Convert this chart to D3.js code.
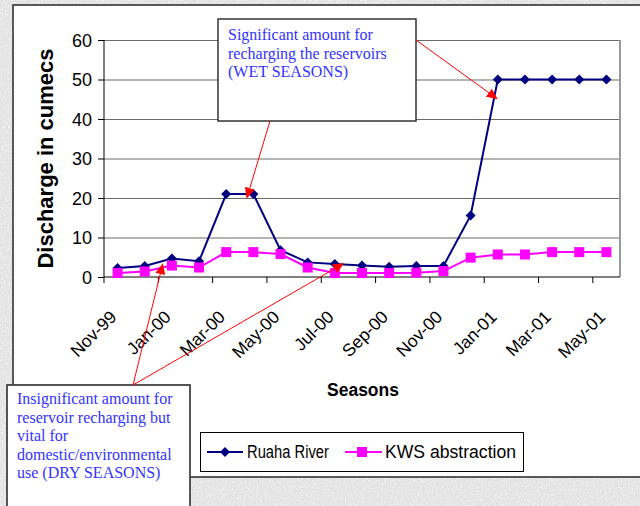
<!DOCTYPE html>
<html>
<head>
<meta charset="utf-8">
<script src="https://cdn.jsdelivr.net/npm/d3@7"></script>
<style>
  html, body { margin: 0; padding: 0; background: #e6e6e6; }
  svg { display: block; }
</style>
</head>
<body>
<svg id="chart" width="640" height="506"></svg>
<script>
// Monthly discharge, Nov 1999 – May 2001 (cumecs)
const months = ["Nov-99","Dec-99","Jan-00","Feb-00","Mar-00","Apr-00","May-00","Jun-00",
                "Jul-00","Aug-00","Sep-00","Oct-00","Nov-00","Dec-00","Jan-01","Feb-01",
                "Mar-01","Apr-01","May-01"];
const ruahaRiver = [2.3, 2.8, 4.7, 4.0, 21, 21, 6.8, 3.7, 3.3, 2.9, 2.6, 2.8, 2.8, 15.6, 50, 50, 50, 50, 50];
const kwsAbstraction = [1.0, 1.4, 2.9, 2.4, 6.3, 6.3, 5.8, 2.4, 1.0, 1.0, 1.0, 1.1, 1.5, 4.9, 5.7, 5.7, 6.3, 6.3, 6.3];
const yTicks = [0, 10, 20, 30, 40, 50, 60];

const seriesNames = ["Ruaha River", "KWS abstraction"];
const noteWet = ["Significant amount for", "recharging the reservoirs", "(WET SEASONS)"];
const noteDry = ["Insignificant amount for", "reservoir recharging but", "vital for",
                 "domestic/environmental", "use (DRY SEASONS)"];

const svg = d3.select("#chart");
const sans = "'Liberation Sans', Arial, sans-serif";
const serif = "'Liberation Serif', 'Times New Roman', serif";
const navy = "#000080", magenta = "#ff00ff", red = "#ff0000", noteBlue = "#3333ff";

// ---- textured backdrop ----
const defs = svg.append("defs");
const tex = defs.append("filter").attr("id", "speckle").attr("x", 0).attr("y", 0)
  .attr("width", "100%").attr("height", "100%");
tex.append("feTurbulence").attr("type", "fractalNoise").attr("baseFrequency", "0.75 0.55")
  .attr("numOctaves", 3).attr("seed", 4).attr("result", "n");
tex.append("feColorMatrix").attr("type", "matrix")
  .attr("values", "0 0 0 0 1  0 0 0 0 1  0 0 0 0 1  2.2 0 0 0 -1.05");
svg.append("rect").attr("width", 640).attr("height", 506).attr("fill", "#e3e3e3");
svg.append("rect").attr("width", 640).attr("height", 506).attr("filter", "url(#speckle)");

// ---- chart area ----
svg.append("rect").attr("x", 13).attr("y", 5).attr("width", 640).attr("height", 472)
  .attr("fill", "#fff").attr("stroke", "#333").attr("stroke-width", 1.6);

const plot = { left: 104, right: 620, top: 40, bottom: 277 };
const x = d3.scaleBand().domain(months).range([plot.left, plot.right]);
const y = d3.scaleLinear().domain([0, 60]).range([plot.bottom, plot.top]);
const cx = d => x(d) + x.bandwidth() / 2;

// horizontal gridlines
svg.append("g")
  .attr("transform", `translate(${plot.left},0)`)
  .call(d3.axisLeft(y).tickValues(yTicks.slice(1)).tickSize(-(plot.right - plot.left)).tickFormat(""))
  .call(g => g.select(".domain").remove())
  .call(g => g.selectAll("line").attr("stroke", "#6a6a6a").attr("stroke-width", 1));

// right edge of the plot area
svg.append("line").attr("x1", plot.right).attr("x2", plot.right)
  .attr("y1", plot.top).attr("y2", plot.bottom)
  .attr("stroke", "#9a9a9a").attr("stroke-width", 2);

// y axis
svg.append("g")
  .attr("transform", `translate(${plot.left},0)`)
  .call(d3.axisLeft(y).tickValues(yTicks).tickSize(6).tickPadding(6))
  .call(g => g.select(".domain").attr("stroke", "#000").attr("d", `M0,${plot.top}V${plot.bottom}`))
  .call(g => g.selectAll("line").attr("stroke", "#000"))
  .call(g => g.selectAll("text").attr("font-family", sans).attr("font-size", 18)
    .attr("fill", "#000").attr("x", -12).attr("dy", "0.36em"));

// x axis: tick marks on category boundaries, labels on every other month
const xAxis = svg.append("g").attr("transform", `translate(0,${plot.bottom})`)
  .call(d3.axisBottom(x).tickSize(0).tickFormat((d, i) => i % 2 === 0 ? d : ""))
  .call(g => g.select(".domain").attr("stroke", "#000").attr("d", `M${plot.left},0H${plot.right}`));
xAxis.selectAll("text")
  .attr("font-family", sans).attr("font-size", 17.5).attr("fill", "#000")
  .attr("text-anchor", "end").attr("y", 0).attr("dy", 0)
  .attr("transform", "translate(0,41) rotate(-45)");
xAxis.selectAll(".boundary")
  .data(months.filter((d, i) => i % 2 === 0))
  .join("line").attr("class", "boundary")
  .attr("x1", d => x(d)).attr("x2", d => x(d))
  .attr("y1", 0).attr("y2", 6).attr("stroke", "#000");

// axis titles
svg.append("text")
  .attr("transform", `translate(53,${(plot.top + plot.bottom) / 2 + 0}) rotate(-90)`)
  .attr("text-anchor", "middle").attr("font-family", sans).attr("font-weight", "bold")
  .attr("font-size", 22).attr("fill", "#000").text("Discharge in cumecs");
svg.append("text").attr("x", 363).attr("y", 396)
  .attr("text-anchor", "middle").attr("font-family", sans).attr("font-weight", "bold")
  .attr("font-size", 17.5).attr("fill", "#000").text("Seasons");

// ---- series ----
const line = d3.line().x((d, i) => cx(months[i])).y(d => y(d));
const diamond = d3.symbol(d3.symbolSquare, 50);
const square = d3.symbol(d3.symbolSquare, 100);

svg.append("path").datum(kwsAbstraction).attr("d", line)
  .attr("fill", "none").attr("stroke", magenta).attr("stroke-width", 2);
svg.append("path").datum(ruahaRiver).attr("d", line)
  .attr("fill", "none").attr("stroke", navy).attr("stroke-width", 2);

svg.append("g").selectAll("path").data(ruahaRiver).join("path")
  .attr("d", diamond)
  .attr("transform", (d, i) => `translate(${cx(months[i])},${y(d)}) rotate(45)`)
  .attr("fill", navy);
svg.append("g").selectAll("path").data(kwsAbstraction).join("path")
  .attr("d", square)
  .attr("transform", (d, i) => `translate(${cx(months[i])},${y(d)})`)
  .attr("fill", magenta);

// ---- legend ----
const legend = svg.append("g");
legend.append("rect").attr("x", 200.5).attr("y", 432.5).attr("width", 323).attr("height", 39)
  .attr("fill", "#fff").attr("stroke", "#000").attr("stroke-width", 1);
legend.append("line").attr("x1", 207).attr("x2", 243).attr("y1", 452).attr("y2", 452)
  .attr("stroke", navy).attr("stroke-width", 2);
legend.append("path").attr("d", diamond).attr("transform", "translate(225,452) rotate(45)").attr("fill", navy);
legend.append("text").attr("x", 247).attr("y", 458).attr("font-family", sans).attr("font-size", 17.5)
  .attr("textLength", 82).attr("lengthAdjust", "spacingAndGlyphs").attr("fill", "#000").text(seriesNames[0]);
legend.append("line").attr("x1", 345).attr("x2", 382).attr("y1", 452).attr("y2", 452)
  .attr("stroke", magenta).attr("stroke-width", 2);
legend.append("path").attr("d", square).attr("transform", "translate(362,452)").attr("fill", magenta);
legend.append("text").attr("x", 385).attr("y", 458).attr("font-family", sans).attr("font-size", 17.5)
  .attr("textLength", 131).attr("lengthAdjust", "spacingAndGlyphs").attr("fill", "#000").text(seriesNames[1]);

// ---- annotation callouts ----
function arrow(x1, y1, x2, y2) {
  const a = Math.atan2(y2 - y1, x2 - x1);
  const len = 11, half = 5;
  const bx = x2 - len * Math.cos(a), by = y2 - len * Math.sin(a);
  svg.append("line").attr("x1", x1).attr("y1", y1).attr("x2", bx).attr("y2", by)
    .attr("stroke", red).attr("stroke-width", 1);
  svg.append("path")
    .attr("d", `M${x2},${y2}L${bx + half * Math.sin(a)},${by - half * Math.cos(a)}L${bx - half * Math.sin(a)},${by + half * Math.cos(a)}Z`)
    .attr("fill", red);
}

// wet-season box and its pointers (tips placed in chart coordinates)
const posAt = (idx, v) => [plot.left + x.step() * (idx + 0.5), y(v)];
svg.append("rect").attr("x", 218).attr("y", 19).attr("width", 198).attr("height", 102)
  .attr("fill", "#fff").attr("stroke", "#333").attr("stroke-width", 1.5);
svg.append("text").attr("font-family", serif).attr("font-size", 16).attr("fill", noteBlue)
  .selectAll("tspan").data(noteWet).join("tspan")
  .attr("x", 228).attr("y", (d, i) => 40 + i * 18.5).text(d => d);
arrow(270, 121, ...posAt(4.75, 19.8));
arrow(416, 40, ...posAt(14.0, 45));

// dry-season box and its pointers
svg.append("rect").attr("x", 7).attr("y", 385).attr("width", 183).attr("height", 140)
  .attr("fill", "#fff").attr("stroke", "#444").attr("stroke-width", 1.8);
svg.append("text").attr("font-family", serif).attr("font-size", 16).attr("fill", noteBlue)
  .selectAll("tspan").data(noteDry).join("tspan")
  .attr("x", 17).attr("y", (d, i) => 404 + i * 18.5).text(d => d);
arrow(133, 385, ...posAt(1.67, 3.5));
arrow(133, 385, ...posAt(8.34, 3.5));
</script>
</body>
</html>
